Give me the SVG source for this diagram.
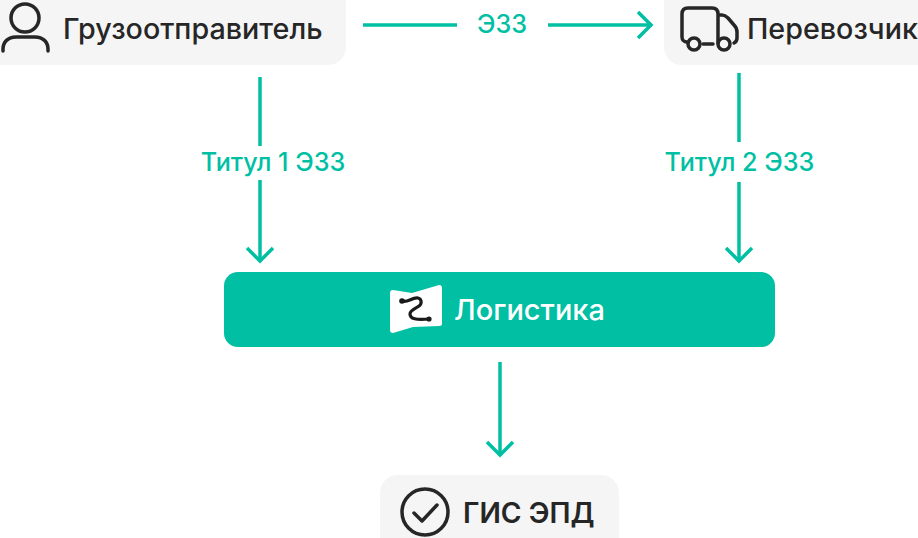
<svg xmlns="http://www.w3.org/2000/svg" width="918" height="538" viewBox="0 0 918 538">
<defs>
<style>
.box{fill:#f5f5f5}
.t{font-family:Inter,"Noto Sans",sans-serif;font-size:28.7px;font-weight:500;fill:#262626}
.g{font-family:Inter,"Noto Sans",sans-serif;font-size:25.2px;font-weight:500;fill:#00bfa3;text-anchor:middle}
.c{fill:none;stroke:#00bfa3;stroke-width:3.5}
.i{fill:none;stroke:#262626;stroke-width:3.5;stroke-linecap:round;stroke-linejoin:round}
</style>
<marker id="a" viewBox="0 0 30 30" refX="27" refY="15" markerWidth="30" markerHeight="30" markerUnits="userSpaceOnUse" orient="auto"><path d="M13 2L26 15L13 28" fill="none" stroke="#00bfa3" stroke-width="3.5"/></marker>
</defs>
<rect width="918" height="538" fill="#fff"/>
<g id="connectors">
<path class="c" d="M363 25H457"/>
<path class="c" d="M548 25H652" marker-end="url(#a)"/>
<path class="c" d="M260 77V146"/>
<path class="c" d="M260 180V262" marker-end="url(#a)"/>
<path class="c" d="M739 73V142"/>
<path class="c" d="M739 182V262" marker-end="url(#a)"/>
<path class="c" d="M500 362V456" marker-end="url(#a)"/>
<text class="g" x="502" y="33">ЭЗЗ</text>
<text class="g" x="273" y="171">Титул 1 ЭЗЗ</text>
<text class="g" x="739.5" y="171">Титул 2 ЭЗЗ</text>
</g>
<g id="shipper">
<path class="box" d="M0 0H346V47a18 18 0 0 1-18 18H0Z"/>
<circle class="i" cx="25" cy="18" r="14"/>
<path class="i" d="M3 51V49C3 42 8 37 16 37H35C43 37 48 42 48 49V51"/>
<text class="t" x="63" y="39">Грузоотправитель</text>
</g>
<g id="carrier">
<path class="box" d="M664 0H918V65H682a18 18 0 0 1-18-18Z"/>
<path class="i" d="M687 42C684 42 682 40 682 37V14C682 10 684 8 688 8H712C716 8 718 10 718 14V43M718 15H722C724 15 726 16 728 18L734 25C736 27 737 29 737 32V38C737 40 736 42 734 43M703 44H713"/>
<circle class="i" cx="694" cy="44" r="6"/>
<circle class="i" cx="724" cy="44" r="6"/>
<text class="t" x="747" y="39">Перевозчик</text>
</g>
<g id="logistics">
<rect x="224" y="272" width="551" height="75" rx="14" fill="#00bfa3"/>
<path d="M390 293C390 291 391 290 393 290L412 293L439 285C441 285 442 286 442 288V324C442 325 441 326 439 326L413 327L393 333C391 333 390 332 390 330Z" fill="#fff"/>
<path d="M402 301C408 303 412 297 418 298C422 299 422 304 419 306C415 309 410 310 410 314C410 319 416 320 429 319" fill="none" stroke="#1a1a1a" stroke-width="3.2" stroke-linecap="round"/>
<circle cx="402" cy="301" r="2.8" fill="#1a1a1a"/>
<circle cx="429" cy="319" r="2.6" fill="#1a1a1a"/>
<text x="454" y="319.500" font-family="Inter,'Noto Sans',sans-serif" font-size="29" font-weight="500" fill="#fff">Логистика</text>
</g>
<g id="gis">
<path class="box" d="M380 538V493a18 18 0 0 1 18-18H601a18 18 0 0 1 18 18V538Z"/>
<circle class="i" cx="425" cy="512" r="23"/>
<path class="i" d="M414 513L422 521L437 505"/>
<text class="t" x="463" y="523" style="font-size:28.2px;font-weight:600">ГИС ЭПД</text>
</g>
</svg>
